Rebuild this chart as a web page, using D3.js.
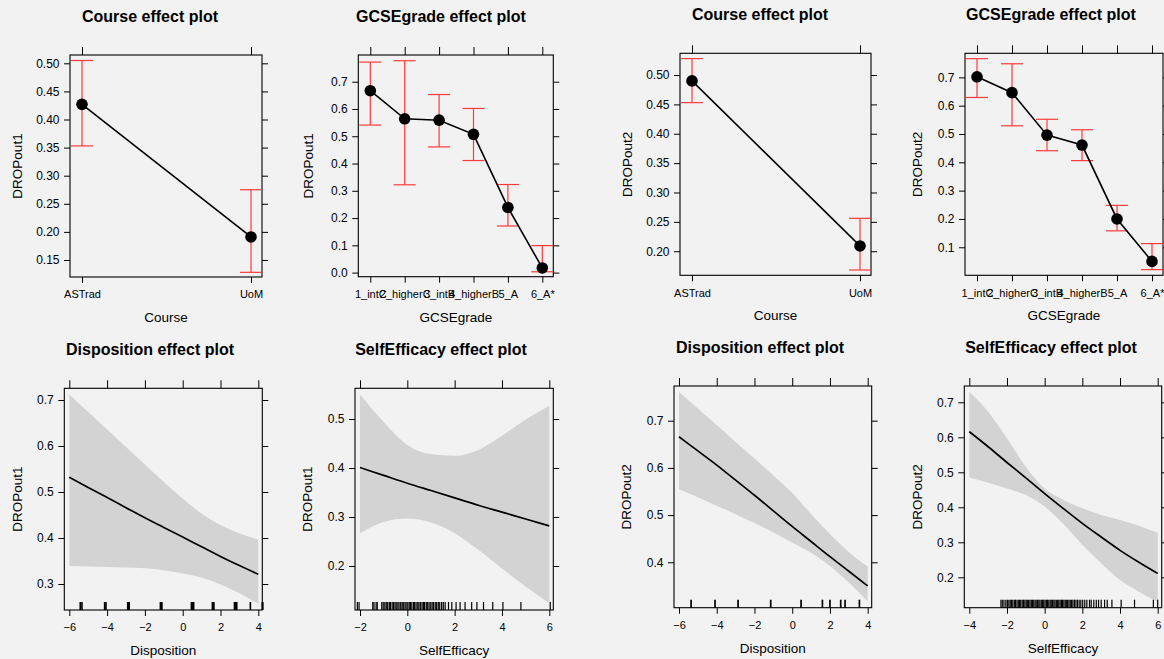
<!DOCTYPE html>
<html><head><meta charset="utf-8">
<script src="https://cdn.jsdelivr.net/npm/d3@7"></script>
<style>
html,body{margin:0;padding:0;background:#f2f2f2;}
svg{display:block;font-family:"Liberation Sans",Arial,Helvetica,sans-serif;}
</style></head><body>
<svg id="chart" width="1164" height="659"></svg>
<script>
// ---------- DATA ----------
const courseCats = ["ASTrad", "UoM"];
const courseFit1 = [0.427, 0.191];
const courseLo1  = [0.353, 0.128];
const courseHi1  = [0.505, 0.275];
const courseFit2 = [0.490, 0.209];
const courseLo2  = [0.453, 0.168];
const courseHi2  = [0.528, 0.256];

const gcseCats = ["1_intC", "2_higherC", "3_intB", "4_higherB", "5_A", "6_A*"];
const gcseFit1 = [0.667, 0.564, 0.559, 0.507, 0.239, 0.017];
const gcseLo1  = [0.541, 0.322, 0.461, 0.411, 0.171, 0.003];
const gcseHi1  = [0.772, 0.777, 0.653, 0.602, 0.323, 0.099];
const gcseFit2 = [0.702, 0.646, 0.496, 0.461, 0.200, 0.050];
const gcseLo2  = [0.629, 0.529, 0.441, 0.406, 0.158, 0.021];
const gcseHi2  = [0.766, 0.748, 0.552, 0.515, 0.248, 0.113];

const dispX    = [-6, -5, -4, -3, -2, -1, 0, 1, 2, 3, 4];
const dispFit1 = [0.532, 0.510, 0.488, 0.466, 0.444, 0.423, 0.402, 0.381, 0.360, 0.340, 0.321];
const dispLo1  = [0.339, 0.338, 0.337, 0.336, 0.334, 0.330, 0.323, 0.314, 0.299, 0.280, 0.257];
const dispHi1  = [0.712, 0.674, 0.636, 0.598, 0.560, 0.522, 0.486, 0.453, 0.428, 0.410, 0.397];
const dispFit2 = [0.666, 0.636, 0.606, 0.574, 0.542, 0.509, 0.476, 0.444, 0.412, 0.381, 0.350];
const dispLo2  = [0.555, 0.538, 0.520, 0.502, 0.483, 0.463, 0.442, 0.420, 0.392, 0.357, 0.317];
const dispHi2  = [0.761, 0.726, 0.691, 0.655, 0.620, 0.584, 0.547, 0.502, 0.460, 0.422, 0.391];

const seX1   = [-2, -1, 0, 1, 2, 3, 4, 5, 6];
const seFit1 = [0.401, 0.385, 0.369, 0.354, 0.339, 0.324, 0.310, 0.296, 0.282];
const seLo1  = [0.267, 0.290, 0.297, 0.289, 0.267, 0.233, 0.195, 0.158, 0.124];
const seHi1  = [0.550, 0.494, 0.447, 0.428, 0.425, 0.437, 0.466, 0.499, 0.527];

const seX2   = [-4, -3, -2, -1, 0, 1, 2, 3, 4, 5, 6];
const seFit2 = [0.616, 0.573, 0.528, 0.484, 0.439, 0.396, 0.354, 0.315, 0.277, 0.243, 0.211];
const seLo2  = [0.485, 0.470, 0.454, 0.435, 0.402, 0.352, 0.292, 0.240, 0.192, 0.159, 0.130];
const seHi2  = [0.730, 0.673, 0.597, 0.516, 0.454, 0.421, 0.397, 0.378, 0.364, 0.347, 0.327];

const dispRug1 = [-5.42, -5.33, -4.13, -4.06, -2.91, -2.87, -2.83, -1.18, -1.14, -1.10,
  0.46, 0.50, 0.54, 0.58, 1.57, 1.61, 1.65, 2.74, 2.78, 2.82, 2.86, 3.58, 4.21, 4.24];
const dispRug2 = [-5.36, -4.09, -2.87, -1.14, 0.47, 1.60, 2.00, 2.57, 2.80, 3.56];
const seRug1 = [-2.11, -2.04, -1.46, -1.41, -1.32, -1.27, -1.08, -1.02, -0.95, -0.89, -0.83,
  -0.76, -0.71, -0.64, -0.58, -0.52, -0.47, -0.40, -0.35, -0.28, -0.22, -0.17, -0.10, -0.05,
  0.02, 0.08, 0.13, 0.19, 0.26, 0.31, 0.37, 0.44, 0.49, 0.55, 0.62, 0.68, 0.73, 0.80, 0.86,
  0.92, 0.99, 1.05, 1.11, 1.18, 1.24, 1.31, 1.37, 1.45, 1.52, 1.60, 1.74, 1.88, 2.06, 2.23,
  2.44, 2.72, 2.94, 3.22, 3.61, 4.04, 4.80, 6.04];
const seRug2 = [-2.32, -2.25, -2.16, -2.06, -1.98, -1.90, -1.83, -1.76, -1.69, -1.61, -1.55,
  -1.47, -1.40, -1.33, -1.27, -1.19, -1.12, -1.05, -0.98, -0.92, -0.85, -0.78, -0.71, -0.65,
  -0.58, -0.51, -0.45, -0.38, -0.31, -0.25, -0.18, -0.11, -0.05, 0.02, 0.09, 0.15, 0.22,
  0.29, 0.35, 0.42, 0.49, 0.55, 0.62, 0.69, 0.75, 0.82, 0.89, 0.95, 1.02, 1.09, 1.15, 1.22,
  1.29, 1.36, 1.43, 1.50, 1.58, 1.66, 1.74, 1.83, 1.92, 2.02, 2.13, 2.24, 2.38, 2.47, 2.61,
  2.74, 2.86, 3.00, 3.18, 3.32, 3.57, 4.06, 4.77, 5.77, 6.00];

const yTicksCourse1 = [0.15, 0.20, 0.25, 0.30, 0.35, 0.40, 0.45, 0.50];
const yTicksGcse1   = [0.0, 0.1, 0.2, 0.3, 0.4, 0.5, 0.6, 0.7];
const yTicksCourse2 = [0.20, 0.25, 0.30, 0.35, 0.40, 0.45, 0.50];
const yTicksGcse2   = [0.1, 0.2, 0.3, 0.4, 0.5, 0.6, 0.7];
const yTicksDisp1   = [0.3, 0.4, 0.5, 0.6, 0.7];
const yTicksSe1     = [0.2, 0.3, 0.4, 0.5];
const yTicksDisp2   = [0.4, 0.5, 0.6, 0.7];
const yTicksSe2     = [0.2, 0.3, 0.4, 0.5, 0.6, 0.7];
const xTicksDisp = [-6, -4, -2, 0, 2, 4];
const xTicksSe1  = [-2, 0, 2, 4, 6];
const xTicksSe2  = [-4, -2, 0, 2, 4, 6];

// ---------- DRAWING ----------
const svg = d3.select("#chart");
const RED = "#ff3a3a";
const BAND = "#d3d3d3";

function frame(g, c, x, y, xTickVals, xFmt, yFmt) {
  const {L, R, T, B} = c.box;
  const ax = (sel) => { sel.select(".domain").remove();
    sel.selectAll("line").attr("stroke", "#000").attr("stroke-width", 1);
    sel.selectAll("text").attr("fill", "#000"); };
  g.append("g").attr("transform", `translate(0,${B})`)
    .call(d3.axisBottom(x).tickValues(xTickVals).tickFormat(xFmt).tickSize(6).tickPadding(7.5))
    .call(ax).attr("font-size", 11).attr("font-family", null);
  g.append("g").attr("transform", `translate(0,${T})`)
    .call(d3.axisTop(x).tickValues(xTickVals).tickFormat("").tickSize(8)).call(ax);
  g.append("g").attr("transform", `translate(${L},0)`)
    .call(d3.axisLeft(y).tickValues(c.yTicks).tickFormat(yFmt).tickSize(6).tickPadding(4.5))
    .call(ax).attr("font-size", 12).attr("font-family", null);
  g.append("g").attr("transform", `translate(${R},0)`)
    .call(d3.axisRight(y).tickValues(c.yTicks).tickFormat("").tickSize(6)).call(ax);
  g.append("rect").attr("x", L).attr("y", T).attr("width", R - L).attr("height", B - T)
    .attr("fill", "none").attr("stroke", "#000").attr("stroke-width", 1.1);
  g.append("text").attr("x", c.titleX).attr("y", T - 33.3).attr("text-anchor", "middle")
    .attr("font-size", 16).attr("font-weight", "bold").attr("fill", "#000").text(c.title);
  g.append("text").attr("x", (L + R) / 2).attr("y", B + 45).attr("text-anchor", "middle")
    .attr("font-size", 13.5).attr("fill", "#000").text(c.xlab);
  g.append("text").attr("transform", `translate(${c.ylabX},${(T + B) / 2}) rotate(-90)`)
    .attr("dy", "0.35em").attr("text-anchor", "middle")
    .attr("font-size", 13.5).attr("fill", "#000").text(c.ylab);
}

function catPanel(c) {
  const {L, R, T, B} = c.box;
  const g = svg.append("g");
  const x = d3.scalePoint().domain(c.cats).range([L + 12, R - 11]);
  const y = d3.scaleLinear().domain(c.yDomain).range([B, T]);
  const rows = c.cats.map((k, i) => ({k, f: c.fit[i], lo: c.lo[i], hi: c.hi[i]}));
  frame(g, c, x, y, c.cats, d => d, d3.format(c.yFmt));
  const eb = g.append("g").attr("stroke", RED).attr("stroke-width", 1.2);
  rows.forEach(r => {
    eb.append("line").attr("x1", x(r.k)).attr("x2", x(r.k)).attr("y1", y(r.lo)).attr("y2", y(r.hi));
    eb.append("line").attr("x1", x(r.k) - 11).attr("x2", x(r.k) + 11).attr("y1", y(r.lo)).attr("y2", y(r.lo));
    eb.append("line").attr("x1", x(r.k) - 11).attr("x2", x(r.k) + 11).attr("y1", y(r.hi)).attr("y2", y(r.hi));
  });
  g.append("path").datum(rows)
    .attr("d", d3.line().x(r => x(r.k)).y(r => y(r.f)))
    .attr("fill", "none").attr("stroke", "#000").attr("stroke-width", 1.6);
  g.selectAll("circle.pt").data(rows).join("circle").attr("class", "pt")
    .attr("cx", r => x(r.k)).attr("cy", r => y(r.f)).attr("r", 5.8).attr("fill", "#000");
}

function contPanel(c) {
  const {L, R, T, B} = c.box;
  const g = svg.append("g");
  const x = d3.scaleLinear().domain(c.xDomain).range([L + 5, R - 4]);
  const y = d3.scaleLinear().domain(c.yDomain).range([B, T]);
  const rows = c.xs.map((v, i) => ({v, f: c.fit[i], lo: c.lo[i], hi: c.hi[i]}));
  g.append("path").datum(rows)
    .attr("d", d3.area().curve(d3.curveMonotoneX).x(r => x(r.v)).y0(r => y(r.lo)).y1(r => y(r.hi)))
    .attr("fill", BAND);
  frame(g, c, x, y, c.xTicks, d3.format("d"), d3.format(".1f"));
  g.append("path").datum(rows)
    .attr("d", d3.line().curve(d3.curveMonotoneX).x(r => x(r.v)).y(r => y(r.f)))
    .attr("fill", "none").attr("stroke", "#000").attr("stroke-width", 1.7);
  g.append("g").selectAll("line").data(c.rug).join("line")
    .attr("x1", d => x(d)).attr("x2", d => x(d)).attr("y1", B).attr("y2", B - 8)
    .attr("stroke", "#000").attr("stroke-width", c.rugW);
}

catPanel({box: {L: 70, R: 262, T: 55, B: 277}, yDomain: [0.1197, 0.5148], yTicks: yTicksCourse1, yFmt: ".2f",
  cats: courseCats, fit: courseFit1, lo: courseLo1, hi: courseHi1,
  title: "Course effect plot", titleX: 150, xlab: "Course", ylab: "DROPout1", ylabX: 17});
catPanel({box: {L: 358.3, R: 553.3, T: 55, B: 276.7}, yDomain: [-0.015, 0.798], yTicks: yTicksGcse1, yFmt: ".1f",
  cats: gcseCats, fit: gcseFit1, lo: gcseLo1, hi: gcseHi1,
  title: "GCSEgrade effect plot", titleX: 441, xlab: "GCSEgrade", ylab: "DROPout1", ylabX: 308});
catPanel({box: {L: 680, R: 871, T: 53.3, B: 275.3}, yDomain: [0.159, 0.537], yTicks: yTicksCourse2, yFmt: ".2f",
  cats: courseCats, fit: courseFit2, lo: courseLo2, hi: courseHi2,
  title: "Course effect plot", titleX: 760, xlab: "Course", ylab: "DROPout2", ylabX: 627});
catPanel({box: {L: 965, R: 1163, T: 53.3, B: 275.3}, yDomain: [0.001, 0.785], yTicks: yTicksGcse2, yFmt: ".1f",
  cats: gcseCats, fit: gcseFit2, lo: gcseLo2, hi: gcseHi2,
  title: "GCSEgrade effect plot", titleX: 1051, xlab: "GCSEgrade", ylab: "DROPout2", ylabX: 917});

contPanel({box: {L: 64.3, R: 262.3, T: 388.3, B: 610}, xDomain: [-6, 4], yDomain: [0.2435, 0.7254],
  xTicks: xTicksDisp, yTicks: yTicksDisp1, xs: dispX, fit: dispFit1, lo: dispLo1, hi: dispHi1, rug: dispRug1, rugW: 1.6,
  title: "Disposition effect plot", titleX: 150, xlab: "Disposition", ylab: "DROPout1", ylabX: 17});
contPanel({box: {L: 355, R: 553.3, T: 388.3, B: 610}, xDomain: [-2, 6], yDomain: [0.1102, 0.5627],
  xTicks: xTicksSe1, yTicks: yTicksSe1, xs: seX1, fit: seFit1, lo: seLo1, hi: seHi1, rug: seRug1, rugW: 1.2,
  title: "SelfEfficacy effect plot", titleX: 441, xlab: "SelfEfficacy", ylab: "DROPout1", ylabX: 307});
contPanel({box: {L: 674, R: 871.7, T: 386, B: 607.7}, xDomain: [-6, 4], yDomain: [0.3038, 0.7735],
  xTicks: xTicksDisp, yTicks: yTicksDisp2, xs: dispX, fit: dispFit2, lo: dispLo2, hi: dispHi2, rug: dispRug2, rugW: 1.7,
  title: "Disposition effect plot", titleX: 760, xlab: "Disposition", ylab: "DROPout2", ylabX: 626.5});
contPanel({box: {L: 964.3, R: 1161.7, T: 386, B: 607.7}, xDomain: [-4, 6], yDomain: [0.1131, 0.7466],
  xTicks: xTicksSe2, yTicks: yTicksSe2, xs: seX2, fit: seFit2, lo: seLo2, hi: seHi2, rug: seRug2, rugW: 1.2,
  title: "SelfEfficacy effect plot", titleX: 1051, xlab: "SelfEfficacy", ylab: "DROPout2", ylabX: 917});
</script>
</body></html>
